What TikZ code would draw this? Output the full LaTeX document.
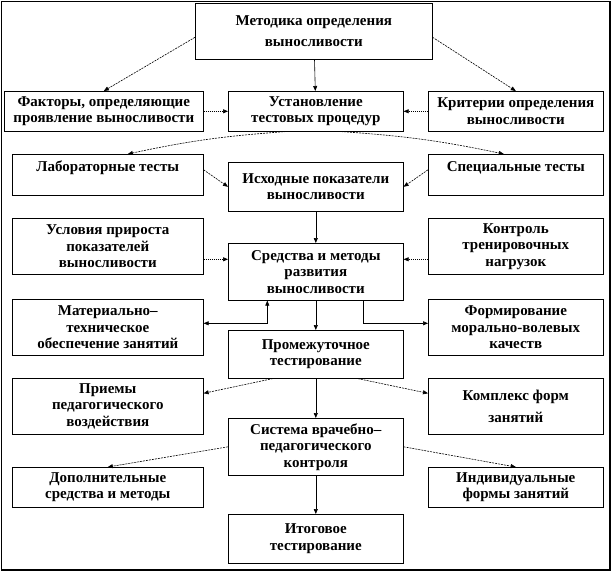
\documentclass[tikz,border=0pt]{standalone}
\usepackage{fontspec}
\setmainfont{Liberation Serif}
\usepackage{tikz}
\usetikzlibrary{positioning,arrows.meta,calc,shadows}

\begin{document}
\begin{tikzpicture}[
    x=1pt, y=-1pt,
    box/.style={rectangle, draw, line width=0.6pt, fill=white, anchor=north west, align=center, inner sep=1pt,
        drop shadow={shadow xshift=1pt, shadow yshift=-1pt, fill=black!55, opacity=1},
        font=\bfseries\fontsize{15}{16.5}\selectfont},
    arrow/.style={-{Triangle[length=5pt,width=4pt]}, line width=0.6pt},
    dasharrow/.style={arrow, dash pattern=on 2pt off 1pt},
    dotarrow/.style={arrow, dash pattern=on 1pt off 1pt}
]
\useasboundingbox (0,0) rectangle (612,572);
\draw[line width=1.2pt] (1.5,1.5) rectangle (610,570);

\node[box, minimum width=237pt, minimum height=56pt] (meth) at (195,3)   {Методика определения\\[5pt]выносливости};

\node[box, minimum width=199pt, minimum height=40pt] (fact) at (4,91)    {Факторы, определяющие\\проявление выносливости};
\node[box, minimum width=175pt, minimum height=40pt] (ust)  at (228,91)  {Установление\\тестовых процедур};
\node[box, minimum width=175pt, minimum height=40pt] (crit) at (428,91)  {Критерии определения\\выносливости};

\node[box, minimum width=191pt, minimum height=41pt] (lab)  at (12,154)  {Лабораторные тесты\\\mbox{}};
\node[box, minimum width=175pt, minimum height=49pt] (ish)  at (228,162) {Исходные показатели\\выносливости};
\node[box, minimum width=175pt, minimum height=41pt] (spec) at (428,154) {Специальные тесты\\\mbox{}};

\node[box, minimum width=191pt, minimum height=56pt] (usl)  at (12,218)  {Условия прироста\\показателей\\выносливости};
\node[box, minimum width=175pt, minimum height=57pt] (sred) at (228,243) {Средства и методы\\развития\\выносливости};
\node[box, minimum width=175pt, minimum height=56pt] (kontr) at (428,218) {Контроль\\тренировочных\\нагрузок};

\node[box, minimum width=191pt, minimum height=56pt] (mat)  at (12,299)  {Материально–\\техническое\\обеспечение занятий};
\node[box, minimum width=175pt, minimum height=48pt] (prom) at (228,330) {Промежуточное\\тестирование};
\node[box, minimum width=175pt, minimum height=56pt] (form) at (428,299) {Формирование\\морально-волевых\\качеств};

\node[box, minimum width=191pt, minimum height=56pt] (prie) at (12,378)  {Приемы\\педагогического\\воздействия};
\node[box, minimum width=175pt, minimum height=57pt] (sys)  at (228,418) {Система врачебно–\\педагогического\\контроля};
\node[box, minimum width=175pt, minimum height=56pt] (komp) at (428,378) {Комплекс форм\\[6pt]занятий};

\node[box, minimum width=191pt, minimum height=40pt] (dop)  at (12,467)  {Дополнительные\\средства и методы};
\node[box, minimum width=175pt, minimum height=40pt] (ind)  at (428,467) {Индивидуальные\\формы занятий};
\node[box, minimum width=175pt, minimum height=49pt] (itog) at (228,514) {Итоговое\\тестирование};

% top level
\draw[dasharrow] ([yshift=-6pt]meth.west) -- (fact.north);
\draw[dasharrow] ([yshift=-6pt]meth.east) -- (crit.north);
\draw[arrow] (meth) -- (ust);
\draw[dotarrow] (fact) -- (ust);
\draw[dotarrow] (crit) -- (ust);

% tests
\draw[dasharrow] ([xshift=-30pt]ust.south) to[bend right=4] ([xshift=20pt]lab.north);
\draw[dasharrow] ([xshift=25pt]ust.south) to[bend left=4] ([xshift=-12pt]spec.north);
\draw[dasharrow] ([yshift=5pt]lab.east) -- (ish.west);
\draw[dasharrow] ([yshift=5pt]spec.west) -- (ish.east);
\draw[arrow] (ish) -- (sred);

% means and methods
\draw[dotarrow] ([yshift=-13pt]usl.east) -- ([yshift=12.5pt]sred.west);
\draw[dotarrow] ([yshift=-13pt]kontr.west) -- ([yshift=12.5pt]sred.east);
\draw[{Triangle[length=5pt,width=4pt]}-{Triangle[length=5pt,width=4pt]}, line width=0.6pt]
    ([yshift=4pt]mat.east) -| ([xshift=-48.5pt]sred.south);
\draw[arrow] ([xshift=47.5pt]sred.south) |- ([yshift=4pt]form.west);
\draw[arrow] (sred) -- (prom);

% intermediate testing
\draw[dasharrow] ([xshift=-43pt]prom.south) -- ([yshift=13pt]prie.east);
\draw[dasharrow] ([xshift=42pt]prom.south) -- ([yshift=13pt]komp.west);
\draw[arrow] (prom) -- (sys);

% control
\draw[dasharrow] (sys.west) -- (dop.north);
\draw[dasharrow] (sys.east) -- (ind.north);
\draw[arrow] (sys) -- (itog);
\end{tikzpicture}
\end{document}
